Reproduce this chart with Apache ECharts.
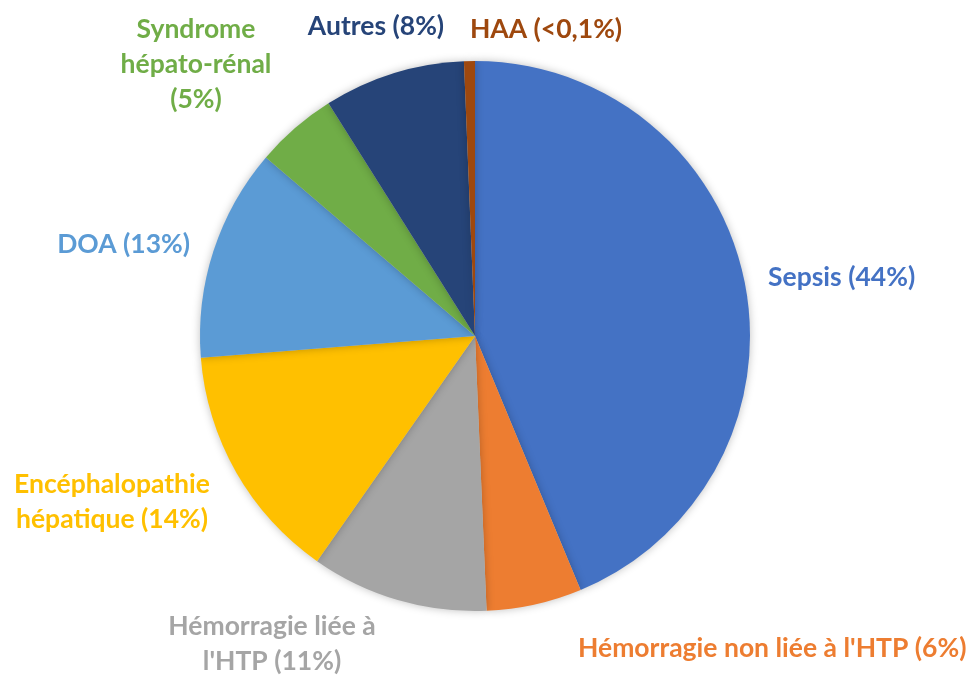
<!DOCTYPE html>
<html>
<head>
<meta charset="utf-8">
<script src="https://cdn.jsdelivr.net/npm/echarts@6/dist/echarts.min.js"></script>
<style>
  html, body { margin: 0; padding: 0; background: #fff; }
  #chart { width: 978px; height: 675px; }
</style>
</head>
<body>
<div id="chart"></div>
<script>
// slices clockwise from 12 o'clock
const names = [
  'Sepsis (44%)',
  "Hémorragie non liée à l'HTP (6%)",
  "Hémorragie liée à\nl'HTP (11%)",
  'Encéphalopathie\nhépatique (14%)',
  'DOA (13%)',
  'Syndrome\nhépato-rénal\n(5%)',
  'Autres (8%)',
  'HAA (<0,1%)'
]
const values = [43.7, 5.6, 10.4, 14.0, 12.5, 4.8, 8.3, 0.64]
const colors = ['#4472C4', '#ED7D31', '#A5A5A5', '#FFC000', '#5B9BD5', '#70AD47', '#264478', '#9E480E']

// label anchor placement (x, y, align)
const labelPos = [
  [768, 277, 'left'],
  [578, 648, 'left'],
  [272, 644, 'center'],
  [112, 502, 'center'],
  [190, 244, 'right'],
  [196, 64, 'center'],
  [376, 26, 'center'],
  [546, 29, 'center']
]

const chart = echarts.init(document.getElementById('chart'))
chart.setOption({
  animation: false,
  series: [{
    type: 'pie',
    center: [475, 336],
    radius: 275,
    startAngle: 90,
    clockwise: true,
    data: names.map((n, i) => ({
      name: n,
      value: values[i],
      itemStyle: { color: colors[i] },
      label: { color: colors[i] }
    })),
    itemStyle: {
      shadowBlur: 8,
      shadowColor: 'rgba(0,0,0,0.25)'
    },
    label: {
      show: true,
      position: 'outside',
      formatter: '{b}',
      fontFamily: 'Lato',
      fontWeight: 'bold',
      fontSize: 26.5,
      lineHeight: 35,
      align: 'center',
      overflow: 'none',
      alignTo: 'none'
    },
    labelLine: { show: false },
    labelLayout: (params) => {
      const p = labelPos[params.dataIndex]
      return { x: p[0], y: p[1], align: p[2], verticalAlign: 'middle', width: 400 }
    }
  }]
})
</script>
</body>
</html>
